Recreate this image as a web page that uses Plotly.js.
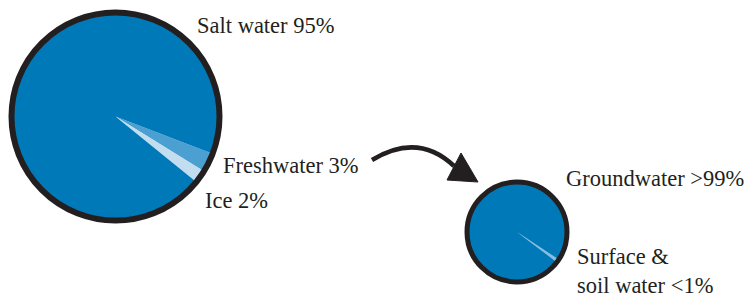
<!DOCTYPE html>
<html>
<head>
<meta charset="utf-8">
<script src="https://cdn.plot.ly/plotly-3.0.1.min.js"></script>
<style>html,body{margin:0;padding:0;background:#fff;}#chart{width:752px;height:298px;}</style>
</head>
<body>
<div id="chart"></div>
<script>
// Data
const bigLabels = ['Freshwater', 'Ice', 'Salt water'];
const bigValues = [3, 2, 95];
const bigColors = ['#4C9FD1', '#C2DDEF', '#0079B9'];
const bigText = ['Freshwater 3%', 'Ice 2%', 'Salt water 95%'];

const smallLabels = ['Surface & soil water', 'Groundwater'];
const smallValues = [1, 99];
const smallColors = ['#86BDE0', '#0079B9'];
const smallText = ['Surface &<br>soil water <1%', 'Groundwater >99%'];

const W = 752, H = 298;
const big = {cx: 115.5, cy: 116.5, r: 104};
const small = {cx: 517, cy: 232, r: 50};

function dom(c) {
  return {
    x: [(c.cx - c.r) / W, (c.cx + c.r) / W],
    y: [(H - c.cy - c.r) / H, (H - c.cy + c.r) / H]
  };
}

const traces = [
  {
    type: 'pie', labels: bigLabels, values: bigValues, sort: false,
    direction: 'clockwise', rotation: 111, textinfo: 'none', hoverinfo: 'skip',
    marker: {colors: bigColors, line: {width: 0}}, domain: dom(big), showlegend: false
  },
  {
    type: 'pie', labels: smallLabels, values: smallValues, sort: false,
    direction: 'clockwise', rotation: 123.5, textinfo: 'none', hoverinfo: 'skip',
    marker: {colors: smallColors, line: {width: 0}}, domain: dom(small), showlegend: false
  }
];

const font = {family: 'Liberation Serif, Times New Roman, serif', size: 22.5, color: '#231F20'};
function ann(text, x, y, ya) {
  return {text: text, x: x, y: y, xref: 'x', yref: 'y', xanchor: 'left', yanchor: ya || 'middle',
          showarrow: false, font: font, align: 'left', borderpad: 0};
}

const layout = {
  width: W, height: H, margin: {l: 0, r: 0, t: 0, b: 0},
  paper_bgcolor: '#fff', plot_bgcolor: 'rgba(0,0,0,0)',
  xaxis: {range: [0, W], visible: false, fixedrange: true},
  yaxis: {range: [H, 0], visible: false, fixedrange: true},
  showlegend: false,
  shapes: [
    {type: 'circle', xref: 'x', yref: 'y', x0: big.cx - big.r, x1: big.cx + big.r, y0: big.cy - big.r, y1: big.cy + big.r,
     line: {color: '#231F20', width: 6}, fillcolor: 'rgba(0,0,0,0)'},
    {type: 'circle', xref: 'x', yref: 'y', x0: small.cx - small.r, x1: small.cx + small.r, y0: small.cy - small.r, y1: small.cy + small.r,
     line: {color: '#231F20', width: 5}, fillcolor: 'rgba(0,0,0,0)'},
    {type: 'path', xref: 'x', yref: 'y', path: 'M 372 160 Q 418 132 454 166',
     line: {color: '#231F20', width: 4.5}, fillcolor: 'rgba(0,0,0,0)'},
    {type: 'path', xref: 'x', yref: 'y', path: 'M 461 153 L 447 180 L 478 182 Z',
     line: {color: '#231F20', width: 1}, fillcolor: '#231F20'}
  ],
  annotations: [
    ann(bigText[2], 196, 25),
    ann(bigText[0], 222, 165),
    ann(bigText[1], 204, 200),
    ann(smallText[1], 565, 178),
    ann(smallText[0], 576, 271)
  ]
};

Plotly.newPlot('chart', traces, layout, {staticPlot: true, displayModeBar: false});
</script>
</body>
</html>
